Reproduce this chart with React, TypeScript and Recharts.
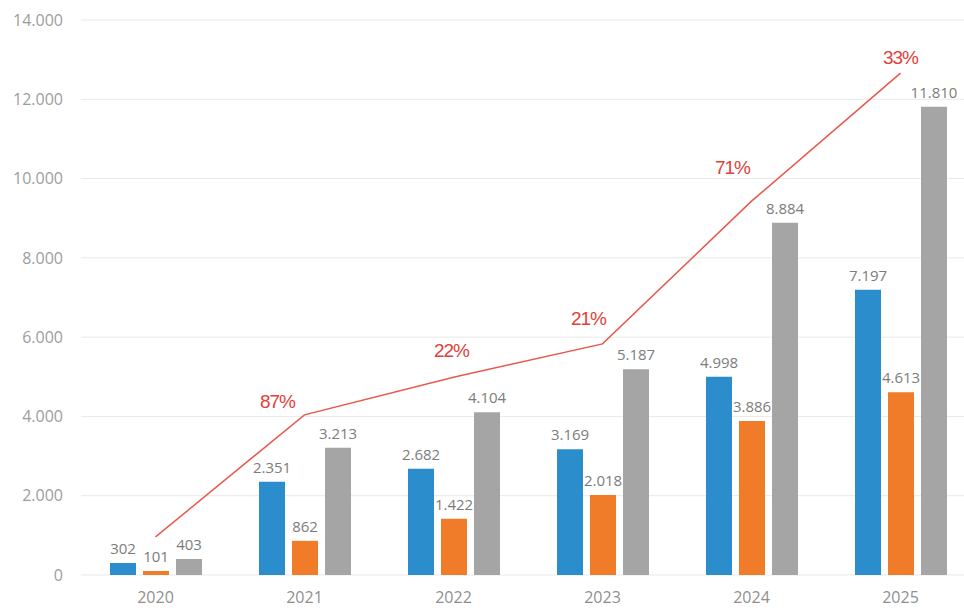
import React from 'react';
import { ComposedChart, Bar, Line, XAxis, YAxis, CartesianGrid, LabelList } from 'recharts';

const years = ['2020', '2021', '2022', '2023', '2024', '2025'];
const seriesBlue = [302, 2351, 2682, 3169, 4998, 7197];
const seriesOrange = [101, 862, 1422, 2018, 3886, 4613];
const seriesGray = [403, 3213, 4104, 5187, 8884, 11810];
const trendLine = [960, 4040, 4990, 5830, 9430, 12660];
const growthLabels = ['', '87%', '22%', '21%', '71%', '33%'];
const yTicks = [0, 2000, 4000, 6000, 8000, 10000, 12000, 14000];

const data = years.map((y, i) => ({
  year: y,
  blue: seriesBlue[i],
  orange: seriesOrange[i],
  gray: seriesGray[i],
  trend: trendLine[i],
  growth: growthLabels[i],
}));

const labelOffsets = [
  [0, 0],
  [-27, -13],
  [-2, -27],
  [-14, -25],
  [-19, -34],
  [0, -16],
];

const fmt = (n: number) => String(n).replace(/\B(?=(\d{3})+(?!\d))/g, '.');

const FONT = '"Open Sans", "DejaVu Sans", sans-serif';

const GrowthLabel = (props: any) => {
  const { x, y, index, value } = props;
  if (!value) return null;
  const [dx, dy] = labelOffsets[index] || [0, 0];
  return (
    <text
      x={x + dx}
      y={y + dy}
      textAnchor="middle"
      dominantBaseline="central"
      fill="#e2403a"
      fontSize={19}
      fontFamily={'"Liberation Sans", "DejaVu Sans", sans-serif'}
      letterSpacing={-1}
    >
      {value}
    </text>
  );
};

const barLabelStyle = { fill: '#7c7c7c', fontSize: 15, fontFamily: FONT };

export default function App() {
  return (
    <div
      style={{
        position: 'fixed',
        left: 0,
        top: 0,
        width: 964,
        height: 608,
        overflow: 'hidden',
        background: '#fff',
      }}
    >
      <ComposedChart
        width={975}
        height={608}
        data={data}
        margin={{ top: 20, right: 0, bottom: 0, left: 0 }}
        barSize={26}
        barGap={7}
      >
        <CartesianGrid vertical={false} stroke="#e9e9e9" />
        <XAxis
          dataKey="year"
          axisLine={false}
          tickLine={false}
          height={33}
          tickMargin={11}
          tick={{ fill: '#8f8f8f', fontSize: 16, fontFamily: FONT }}
        />
        <YAxis
          width={81}
          domain={[0, 14000]}
          ticks={yTicks}
          axisLine={false}
          tickLine={false}
          tickMargin={12}
          tickFormatter={fmt}
          tick={{ fill: '#9d9d9d', fontSize: 16, fontFamily: FONT }}
        />
        <Bar dataKey="blue" fill="#2b8dcb" isAnimationActive={false}>
          <LabelList dataKey="blue" position="top" offset={9} formatter={fmt} style={barLabelStyle} />
        </Bar>
        <Bar dataKey="orange" fill="#f07c2a" isAnimationActive={false}>
          <LabelList dataKey="orange" position="top" offset={9} formatter={fmt} style={barLabelStyle} />
        </Bar>
        <Bar dataKey="gray" fill="#a5a5a5" isAnimationActive={false}>
          <LabelList dataKey="gray" position="top" offset={9} formatter={fmt} style={barLabelStyle} />
        </Bar>
        <Line
          dataKey="trend"
          stroke="#e8584c"
          strokeWidth={1.5}
          dot={false}
          activeDot={false}
          isAnimationActive={false}
        >
          <LabelList dataKey="growth" content={<GrowthLabel />} />
        </Line>
      </ComposedChart>
    </div>
  );
}
